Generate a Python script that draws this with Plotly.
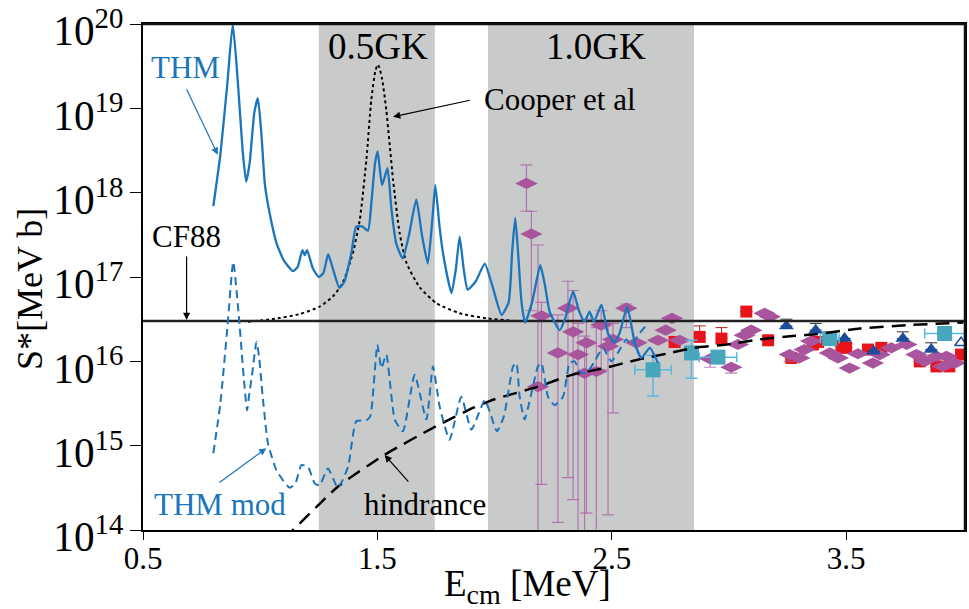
import numpy as np
import plotly.graph_objects as go

# ---------------- data (energies in MeV, S* values given as log10 of MeV b) ----------------
thm_E = [0.80, 0.83, 0.86, 0.883, 0.905, 0.925, 0.94, 0.955, 0.975, 0.99, 1.005, 1.02, 1.04, 1.07, 1.10,
         1.14, 1.16, 1.18, 1.19, 1.20, 1.225, 1.25, 1.27, 1.29, 1.31, 1.338, 1.36, 1.374, 1.39, 1.41, 1.435,
         1.46, 1.475, 1.49, 1.501, 1.52, 1.543, 1.56, 1.58, 1.608, 1.635, 1.666, 1.69, 1.715, 1.735, 1.747,
         1.765, 1.78, 1.816, 1.835, 1.851, 1.868, 1.885, 1.92, 1.958, 1.99, 2.03, 2.06, 2.075, 2.088, 2.10,
         2.115, 2.13, 2.16, 2.195, 2.215, 2.235, 2.278, 2.30, 2.335, 2.36, 2.384, 2.405, 2.424, 2.456, 2.484,
         2.512, 2.534, 2.566, 2.598, 2.626, 2.662, 2.697]
thm_logS = [17.84, 18.45, 19.3, 20.0, 19.3, 18.5, 18.13, 18.35, 18.95, 19.12, 18.7, 18.1, 17.76, 17.4, 17.2,
            17.07, 17.12, 17.32, 17.26, 17.32, 17.1, 17.0, 17.05, 17.27, 17.1, 16.87, 16.95, 17.1, 17.3, 17.6,
            17.6, 17.55, 17.9, 18.35, 18.49, 18.09, 18.29, 17.8, 17.4, 17.22, 17.5, 17.92, 17.5, 17.16, 17.7,
            18.09, 17.6, 17.28, 16.81, 17.1, 17.48, 17.1, 16.85, 16.95, 17.16, 16.9, 16.55, 16.7, 17.3, 17.7,
            17.3, 16.7, 16.46, 16.7, 17.14, 16.9, 16.59, 16.37, 16.5, 16.83, 16.6, 16.47, 16.59, 16.47, 16.67,
            16.33, 16.22, 16.34, 16.65, 16.22, 16.04, 16.16, 15.98]

mod_E = [0.80, 0.83, 0.86, 0.885, 0.91, 0.93, 0.944, 0.952, 0.968, 0.984, 0.995, 1.01, 1.033, 1.069, 1.10,
         1.126, 1.15, 1.176, 1.204, 1.233, 1.254, 1.289, 1.332, 1.375, 1.41, 1.453, 1.47, 1.50, 1.517, 1.538,
         1.574, 1.609, 1.659, 1.709, 1.737, 1.766, 1.808, 1.858, 1.901, 1.958, 1.98, 2.01, 2.04, 2.079, 2.093,
         2.107, 2.128, 2.157, 2.185, 2.20, 2.228, 2.256, 2.292, 2.32, 2.342, 2.363, 2.392, 2.427, 2.462, 2.498,
         2.526, 2.562, 2.583, 2.612, 2.654]
mod_logS = [14.91, 15.5, 16.4, 17.18, 16.5, 15.8, 15.42, 15.58, 15.9, 16.23, 16.06, 15.6, 15.03, 14.71, 14.58,
            14.5, 14.55, 14.77, 14.75, 14.55, 14.53, 14.73, 14.5, 14.75, 15.29, 15.3, 15.35, 16.2, 15.92, 16.08,
            15.31, 15.17, 15.84, 15.31, 15.94, 15.46, 15.07, 15.58, 15.19, 15.54, 15.4, 15.17, 15.35, 15.94, 15.98,
            15.58, 15.31, 15.62, 15.94, 15.98, 15.58, 15.48, 15.58, 15.98, 16.0, 15.88, 15.86, 16.0, 16.16, 16.0,
            16.1, 16.26, 16.2, 16.31, 16.45]

cooper_E = [0.948, 1.05, 1.168, 1.254, 1.31, 1.352, 1.395, 1.425, 1.453, 1.474, 1.492, 1.503, 1.52, 1.538,
            1.567, 1.595, 1.624, 1.68, 1.752, 1.851, 1.965, 2.08]
cooper_logS = [16.47, 16.5, 16.56, 16.65, 16.77, 16.93, 17.28, 17.68, 18.39, 19.1, 19.45, 19.52, 19.35, 18.98,
               18.15, 17.52, 17.17, 16.88, 16.69, 16.57, 16.51, 16.48]

hind_E = [1.10, 1.14, 1.33, 1.53, 1.75, 1.91, 2.0, 2.185, 2.33, 2.47, 2.61, 2.75, 2.85, 2.99, 3.13, 3.27,
          3.37, 3.56, 3.77, 4.0]
hind_logS = [13.9, 14.0, 14.51, 14.89, 15.23, 15.45, 15.55, 15.7, 15.84, 15.92, 16.02, 16.1, 16.16, 16.2,
             16.26, 16.3, 16.32, 16.39, 16.43, 16.46]

cf88_S = 3.0e16
cf88_E = [0.5, 4.007]

# purple diamonds with (log10) upper / lower error bounds (None = no bar)
dia_E = [2.136, 2.157, 2.185, 2.200, 2.270, 2.313, 2.335, 2.356, 2.384, 2.392, 2.434, 2.455, 2.484, 2.505,
         2.562, 2.605, 2.697, 2.73, 2.757, 2.79, 2.92, 3.01, 3.038, 3.067, 3.095, 3.152, 3.174, 3.259, 3.30,
         3.322, 3.35, 3.43, 3.465, 3.515, 3.55, 3.614, 3.643, 3.693, 3.757, 3.80, 3.835, 3.885, 3.913, 3.928,
         3.963]
dia_logS = [18.11, 17.51, 15.70, 16.54, 16.10, 16.63, 16.35, 16.08, 15.86, 16.22, 15.88, 16.43, 16.18, 16.26,
            16.63, 16.22, 16.25, 16.37, 16.51, 16.25, 16.03, 15.93, 16.2, 16.31, 16.37, 16.57, 16.53, 16.08,
            16.04, 16.14, 16.24, 16.1, 16.04, 15.92, 16.09, 15.98, 16.08, 16.16, 16.2, 16.08, 16.0, 16.06,
            15.94, 16.06, 15.98]
dia_hi = [18.33, 17.78, 17.38, 16.70, 16.55, 16.95, 16.84, 16.45, 16.30, 16.50, 16.40, 16.60, 16.45, 16.45,
          16.68, None, None, None, None, None, None, None, None, None, None, None, None, None, None,
          None, None, None, None, None, None, None, None, None, None, None, None, None, None, None, None]
dia_lo = [17.78, 16.60, 13.5, 14.54, 14.09, 14.62, 14.36, 13.5, 13.5, 14.20, 13.5, 15.90, 14.18, 15.39,
          16.40, None, None, None, None, None, 15.93, 15.86, None, None, None, None, None, 16.0, None,
          None, None, None, None, None, None, None, None, None, None, None, None, None, None, None, None]

red_E = [2.768, 2.875, 2.968, 3.074, 3.167, 3.266, 3.358, 3.38, 3.48, 3.50, 3.593, 3.65, 3.814, 3.885, 3.94, 3.99]
red_logS = [16.23, 16.29, 16.27, 16.59, 16.25, 16.04, 16.2, 16.23, 16.18, 16.16, 16.14, 16.16, 16.0, 15.94,
            15.94, 16.08]
red_hi = [None, 16.42, 16.40, None, None, None, None, None, None, None, None, None, None, None, None, None]

tri_E = [3.245, 3.37, 3.493, 3.617, 3.742, 3.863]
tri_logS = [16.42, 16.37, 16.27, 16.12, 16.27, 16.14]
tri_hi = [16.50, 16.45, None, None, 16.35, 16.22]
open_tri_E = [3.99]
open_tri_logS = [16.22]

teal_E = [2.676, 2.84, 2.953, 3.43, 3.92]
teal_logS = [15.9, 16.1, 16.05, 16.27, 16.33]
teal_xerr = [0.078, 0.0, 0.08, 0.04, 0.085]
teal_hi = [16.07, 16.25, None, None, None]
teal_lo = [15.59, 15.80, None, None, None]

band_05GK = [1.25, 1.745]
band_10GK = [1.972, 2.851]

# ---------------- helpers ----------------
def lin(v):
    return np.power(10.0, np.array(v, dtype=float))

def errs(center, bounds):
    out = []
    for c, b in zip(center, bounds):
        out.append(0.0 if b is None else abs(10 ** b - 10 ** c))
    return out

FONT = "Liberation Serif"
BLUE = "#1b75bc"
PURPLE = "#a8559e"
RED = "#e8141c"
DBLUE = "#1d4c9c"
TEAL = "#48a6bc"

fig = go.Figure()

for b in (band_05GK, band_10GK):
    fig.add_shape(type="rect", xref="x", yref="paper", x0=b[0], x1=b[1], y0=0, y1=1,
                  fillcolor="#c9caca", line_width=0, layer="below")
# frame (top and right edges)
fig.add_shape(type="line", xref="paper", yref="paper", x0=0, x1=1, y0=1, y1=1,
              line=dict(color="#111111", width=2.5))
fig.add_shape(type="line", xref="paper", yref="paper", x0=1, x1=1, y0=0, y1=1,
              line=dict(color="#111111", width=2.5))

# data points
fig.add_trace(go.Scatter(x=red_E, y=lin(red_logS), mode="markers",
                         marker=dict(symbol="square", size=12, color=RED),
                         error_y=dict(type="data", symmetric=False, array=errs(red_logS, red_hi),
                                      arrayminus=[0] * len(red_E), color="#b02020", thickness=1, width=6),
                         showlegend=False))
fig.add_trace(go.Scatter(x=dia_E, y=lin(dia_logS), mode="markers",
                         marker=dict(symbol="diamond-wide", size=16, color=PURPLE),
                         error_y=dict(type="data", symmetric=False, array=errs(dia_logS, dia_hi),
                                      arrayminus=errs(dia_logS, dia_lo), color="rgba(170,90,165,0.75)",
                                      thickness=1.2, width=6),
                         showlegend=False))
fig.add_trace(go.Scatter(x=tri_E, y=lin(tri_logS), mode="markers",
                         marker=dict(symbol="triangle-up", size=13, color=DBLUE),
                         error_y=dict(type="data", symmetric=False, array=errs(tri_logS, tri_hi),
                                      arrayminus=[0] * len(tri_E), color="#333333", thickness=1, width=6),
                         showlegend=False))
fig.add_trace(go.Scatter(x=open_tri_E, y=lin(open_tri_logS), mode="markers",
                         marker=dict(symbol="triangle-up-open", size=11, color=DBLUE, line=dict(width=1.5)),
                         showlegend=False))
fig.add_trace(go.Scatter(x=teal_E, y=lin(teal_logS), mode="markers",
                         marker=dict(symbol="square", size=15, color=TEAL),
                         error_x=dict(type="data", array=teal_xerr, color="#5ab8e0", thickness=1.5, width=5),
                         error_y=dict(type="data", symmetric=False, array=errs(teal_logS, teal_hi),
                                      arrayminus=errs(teal_logS, teal_lo), color="#5ab8e0", thickness=1.5, width=6),
                         showlegend=False))

# curves
fig.add_trace(go.Scatter(x=cooper_E, y=lin(cooper_logS), mode="lines",
                         line=dict(color="black", width=2, dash="dot", shape="spline", smoothing=0.6),
                         showlegend=False))
fig.add_trace(go.Scatter(x=cf88_E, y=[cf88_S, cf88_S], mode="lines",
                         line=dict(color="#222222", width=2.5), showlegend=False))
fig.add_trace(go.Scatter(x=hind_E, y=lin(hind_logS), mode="lines",
                         line=dict(color="black", width=2.5, dash="14px,8px", shape="spline", smoothing=0.6),
                         showlegend=False))
fig.add_trace(go.Scatter(x=thm_E, y=lin(thm_logS), mode="lines",
                         line=dict(color=BLUE, width=2.3, shape="spline", smoothing=0.5),
                         showlegend=False))
fig.add_trace(go.Scatter(x=mod_E, y=lin(mod_logS), mode="lines",
                         line=dict(color=BLUE, width=2, dash="8px,5px", shape="spline", smoothing=0.5),
                         showlegend=False))

# annotations (log-axis coordinates are log10 values)
ann = []
def text(x, y, s, size=31, color="black"):
    ann.append(dict(x=x, y=y, xref="x", yref="y", text=s, showarrow=False,
                    font=dict(family=FONT, size=size, color=color), xanchor="center", yanchor="middle"))

def arrow(x0, y0, x1, y1, color="black"):
    ann.append(dict(x=x1, y=y1, ax=x0, ay=y0, xref="x", yref="y", axref="x", ayref="y", text="",
                    showarrow=True, arrowhead=2, arrowsize=1.2, arrowwidth=1.2, arrowcolor=color))

text(0.683, 19.48, "THM", color=BLUE)
arrow(0.683, 19.245, 0.819, 18.45, BLUE)
text(0.686, 17.48, "CF88")
arrow(0.686, 17.26, 0.686, 16.49)
text(2.278, 19.10, "Cooper et al")
arrow(1.901, 19.10, 1.567, 18.90)
text(0.828, 14.30, "THM mod", color=BLUE)
arrow(0.82, 14.55, 1.026, 14.97, BLUE)
text(1.702, 14.30, "hindrance")
arrow(1.638, 14.555, 1.531, 14.89)
text(1.501, 19.73, "0.5GK", size=37)
text(2.431, 19.73, "1.0GK", size=37)

# axis titles
ann.append(dict(x=-0.1375, y=0.476, xref="paper", yref="paper", text="S*[MeV b]", textangle=-90,
                showarrow=False, font=dict(family=FONT, size=36, color="black"),
                xanchor="center", yanchor="middle"))
ann.append(dict(x=0.468, y=-0.112, xref="paper", yref="paper",
                text="E<sub><span style='font-size:28px'>cm</span></sub> [MeV]",
                showarrow=False, font=dict(family=FONT, size=37, color="black"),
                xanchor="center", yanchor="middle"))

fig.update_layout(
    width=969, height=609,
    margin=dict(l=143, r=4, t=24, b=79, autoexpand=False),
    paper_bgcolor="white", plot_bgcolor="white",
    font=dict(family=FONT, color="black"),
    annotations=ann,
    showlegend=False,
)
fig.update_xaxes(range=[0.5, 4.007], tickvals=[0.5, 1.5, 2.5, 3.5], ticktext=["0.5", "1.5", "2.5", "3.5"],
                 tickfont=dict(size=31, family=FONT), ticks="outside", ticklen=8, tickcolor="black",
                 showline=True, linecolor="black", linewidth=2, mirror=True, showgrid=False, zeroline=False,
                 ticklabelstandoff=-8, ticklabeloverflow="allow", automargin=False)
fig.update_yaxes(type="log", range=[14, 20.0005], dtick=1, exponentformat="power",
                 tickfont=dict(size=33, family=FONT), ticks="outside", ticklen=11, tickcolor="black",
                 showline=True, linecolor="black", linewidth=2, mirror=True, showgrid=False, zeroline=False,
                 ticklabeloverflow="allow", automargin=False, ticklabelshift=7)

fig.write_html("out.html")
